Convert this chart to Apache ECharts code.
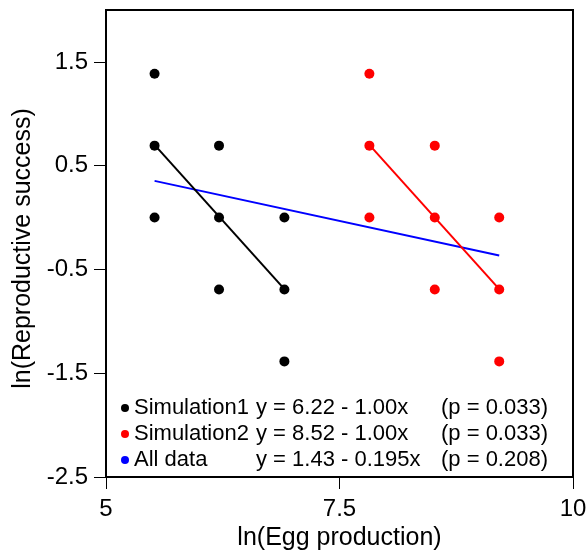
<!DOCTYPE html>
<html>
<head>
<meta charset="utf-8">
<script src="https://cdn.jsdelivr.net/npm/echarts@6/dist/echarts.min.js"></script>
<style>html,body{margin:0;padding:0;background:#fff}#c{width:587px;height:550px}</style>
</head>
<body>
<div id="c"></div>
<script>
// x = ln(egg production), y = ln(reproductive success)
const sim1X = [5.52, 5.52, 5.52, 6.21, 6.21, 6.21, 6.91, 6.91, 6.91];
const sim1Y = [1.386, 0.693, 0.0, 0.693, 0.0, -0.693, 0.0, -0.693, -1.386];
const sim2X = [7.82, 7.82, 7.82, 8.52, 8.52, 8.52, 9.21, 9.21, 9.21];
const sim2Y = [1.386, 0.693, 0.0, 0.693, 0.0, -0.693, 0.0, -0.693, -1.386];

// fitted lines: intercept, slope, x-range
const fitNames = ['Simulation1', 'Simulation2', 'All data'];
const fitIntercepts = [6.22, 8.52, 1.43];
const fitSlopes = [-1.00, -1.00, -0.195];
const fitXRanges = [[5.52, 6.91], [7.82, 9.21], [5.52, 9.21]];
const fitEquations = ['y = 6.22 - 1.00x', 'y = 8.52 - 1.00x', 'y = 1.43 - 0.195x'];
const fitPValues = ['(p = 0.033)', '(p = 0.033)', '(p = 0.208)'];
const colors = ['#000000', '#ff0000', '#0000ff'];

const xTicks = [5, 7.5, 10];
const yTicks = [-2.5, -1.5, -0.5, 0.5, 1.5];

const FONT = '"Liberation Sans", Arial, Helvetica, sans-serif';

function pairs(xs, ys) { return xs.map((x, i) => [x, ys[i]]); }
function fitLine(k) {
  return fitXRanges[k].map(x => [x, fitIntercepts[k] + fitSlopes[k] * x]);
}

const chart = echarts.init(document.getElementById('c'), null, { renderer: 'canvas' });
chart.setOption({
  animation: false,
  backgroundColor: '#fff',
  textStyle: { fontFamily: FONT },
  grid: { left: 106, right: 14, top: 10, bottom: 73, outerBoundsMode: 'none', containLabel: false, show: true, borderColor: '#000', borderWidth: 2, backgroundColor: 'transparent' },
  xAxis: {
    type: 'value', min: 5, max: 10, interval: 2.5,
    name: 'ln(Egg production)', nameLocation: 'middle', nameGap: 44,
    nameTextStyle: { fontSize: 25, color: '#000', fontFamily: FONT },
    axisLine: { show: true, onZero: false, lineStyle: { color: '#000', width: 2 } },
    axisTick: { show: true, inside: false, length: 12, customValues: xTicks, lineStyle: { color: '#000', width: 1 } },
    axisLabel: { fontSize: 24, color: '#000', margin: 20, fontFamily: FONT, customValues: xTicks },
    splitLine: { show: false }
  },
  yAxis: {
    type: 'value', min: -2.5, max: 2.0,
    name: 'ln(Reproductive success)', nameLocation: 'middle', nameGap: 70,
    nameTextStyle: { fontSize: 25, color: '#000', fontFamily: FONT, padding: [0, 10, 0, 0] },
    axisLine: { show: true, onZero: false, lineStyle: { color: '#000', width: 2 } },
    axisTick: { show: true, inside: false, length: 12, customValues: yTicks, lineStyle: { color: '#000', width: 1 } },
    axisLabel: { fontSize: 24, color: '#000', margin: 18, fontFamily: FONT, customValues: yTicks },
    splitLine: { show: false }
  },
  legend: {
    orient: 'vertical', left: 116, top: 392, itemGap: 4,
    icon: 'circle', itemWidth: 8, itemHeight: 8,
    data: fitNames,
    selectedMode: false,
    formatter: function (name) {
      const k = fitNames.indexOf(name);
      return '{a|' + name + '}{b|' + fitEquations[k] + '}{c|' + fitPValues[k] + '}';
    },
    textStyle: {
      fontFamily: FONT, fontSize: 22, color: '#000',
      rich: {
        a: { width: 122, fontSize: 22, fontFamily: FONT, color: '#000', lineHeight: 22 },
        b: { width: 185, fontSize: 22, fontFamily: FONT, color: '#000', lineHeight: 22 },
        c: { fontSize: 22, fontFamily: FONT, color: '#000', lineHeight: 22 }
      }
    }
  },
  series: [
    { name: 'Simulation1', type: 'scatter', data: pairs(sim1X, sim1Y), symbolSize: 10, itemStyle: { color: colors[0], opacity: 1 }, z: 3 },
    { name: 'Simulation2', type: 'scatter', data: pairs(sim2X, sim2Y), symbolSize: 10, itemStyle: { color: colors[1], opacity: 1 }, z: 3 },
    { name: 'All data', type: 'line', data: fitLine(2), showSymbol: false, symbol: 'none', lineStyle: { color: colors[2], width: 2 }, itemStyle: { color: colors[2] }, z: 2 },
    { name: 'fit1', type: 'line', data: fitLine(0), showSymbol: false, symbol: 'none', lineStyle: { color: colors[0], width: 2 }, z: 2 },
    { name: 'fit2', type: 'line', data: fitLine(1), showSymbol: false, symbol: 'none', lineStyle: { color: colors[1], width: 2 }, z: 2 }
  ]
});
</script>
</body>
</html>
